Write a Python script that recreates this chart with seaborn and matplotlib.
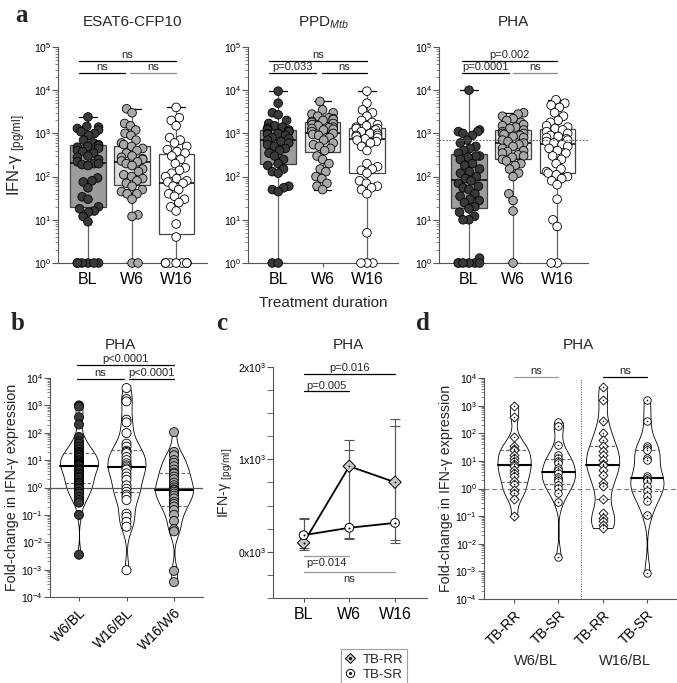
import numpy as np
import pandas as pd
import matplotlib
matplotlib.use('Agg')
import matplotlib.pyplot as plt
import matplotlib.ticker as mticker
from matplotlib.lines import Line2D
from matplotlib.legend_handler import HandlerTuple
import seaborn as sns
import warnings

warnings.filterwarnings('ignore')

# ---------------- data ----------------
times = ['BL', 'W6', 'W16']

# panel a: IFN-gamma (pg/ml)
esat_bl = [2400, 1450, 1400, 1300, 1200, 1100, 1000, 900, 700, 600, 550, 520, 500, 480,
           450, 400, 380, 350, 300, 280, 250, 220, 200, 200, 190, 180, 93, 80, 75, 55,
           34, 30, 20, 18, 16, 15, 12, 9, 1, 1, 1, 1, 1, 1]
esat_w6 = [3700, 3000, 1700, 1500, 1200, 1000, 900, 700, 600, 550, 500, 450, 400, 350,
           300, 280, 260, 250, 230, 220, 200, 180, 150, 130, 110, 100, 90, 80, 70, 60,
           50, 45, 40, 40, 30, 13, 12, 1, 1]
esat_w16 = [4000, 2300, 2000, 1500, 800, 700, 600, 500, 420, 380, 350, 300, 250, 200,
            160, 140, 120, 100, 90, 80, 75, 70, 60, 50, 40, 35, 30, 25, 20, 16, 8, 4,
            1, 1, 1, 1, 1, 1, 1, 1, 1, 1]

ppd_bl = [9500, 5000, 3000, 2700, 2000, 1700, 1500, 1400, 1300, 1300, 1200, 1200, 1100,
          1100, 1000, 1000, 950, 900, 800, 750, 700, 650, 600, 550, 500, 450, 400, 350,
          300, 250, 200, 180, 150, 130, 120, 60, 55, 50, 45, 1, 1]
ppd_w6 = [5500, 3500, 3000, 2800, 2500, 2300, 2200, 2100, 2000, 1900, 1800, 1700, 1600,
          1500, 1400, 1350, 1300, 1250, 1200, 1100, 1000, 950, 900, 800, 700, 600, 550,
          500, 450, 400, 300, 250, 200, 150, 130, 100, 90, 70, 60, 50]
ppd_w16 = [9500, 5000, 3500, 3000, 2500, 2000, 1800, 1600, 1500, 1400, 1300, 1300, 1200,
           1100, 1000, 1000, 900, 900, 850, 800, 750, 700, 650, 600, 500, 400, 200, 170,
           150, 140, 120, 80, 70, 60, 55, 50, 40, 5, 1, 1, 1]

pha_bl = [10000, 1200, 1100, 1100, 1000, 900, 700, 600, 500, 450, 400, 350, 300, 300,
          280, 250, 200, 180, 150, 130, 120, 100, 90, 80, 70, 60, 55, 50, 40, 35, 30, 28,
          25, 20, 18, 15, 12, 10, 10, 1.3, 1, 1, 1, 1, 1, 1]
pha_w6 = [3000, 2800, 2500, 2200, 2000, 1800, 1600, 1500, 1400, 1300, 1200, 1100, 1000,
          1000, 950, 900, 850, 800, 700, 650, 600, 550, 500, 450, 400, 380, 350, 320,
          300, 280, 250, 230, 200, 180, 150, 120, 100, 40, 28, 16, 1]
pha_w16 = [6000, 5000, 4500, 4000, 3000, 2500, 2000, 1800, 1500, 1400, 1300, 1200, 1100,
           1000, 900, 850, 800, 750, 700, 650, 600, 550, 500, 450, 400, 350, 300, 250,
           200, 150, 130, 120, 110, 100, 90, 80, 65, 30, 10, 7, 1, 1]
pha_ref = 700

# panel b: fold-change, PHA
ratios = ['W6/BL', 'W16/BL', 'W16/W6']
fc_w6_bl = [1000, 900, 370, 200, 70, 48, 40, 31, 25, 20, 18, 16, 15, 13, 12, 10, 9, 8,
            7.5, 7, 6.5, 6, 5, 4.5, 4, 3.3, 3, 2.5, 2.2, 1.8, 1.5, 1.4, 1.2, 1.0, 0.9,
            0.7, 0.6, 0.45, 0.35, 0.28, 0.1, 0.0035]
fc_w16_bl = [4300, 1700, 1400, 300, 240, 97, 40, 31, 22, 20, 18, 13, 10, 7.7, 6.5, 5.8,
             5, 4.5, 3.3, 2.5, 1.9, 1.2, 0.9, 0.7, 0.55, 0.47, 0.35, 0.11, 0.085, 0.056,
             0.037, 0.00095]
fc_w16_w6 = [105, 20, 15, 10, 8, 6, 4.5, 3.5, 3.2, 2.5, 2, 1.5, 1.2, 1, 0.85, 0.8, 0.7,
             0.6, 0.5, 0.4, 0.3, 0.25, 0.2, 0.15, 0.1, 0.06, 0.03, 0.025, 0.0009, 0.00035]

# panel c: mean IFN-gamma (pg/ml) with ranges
c_rr_mean = [97, 926, 753]
c_rr_lo = [18, 140, 133]
c_rr_hi = [368, 1214, 1438]
c_sr_mean = [180, 260, 313]
c_sr_lo = [43, 150, 90]
c_sr_hi = [350, 1099, 1358]

# panel d: fold-change by group
d_groups = ['W6/BL TB-RR', 'W6/BL TB-SR', 'W16/BL TB-RR', 'W16/BL TB-SR']
d_ticks = ['TB-RR', 'TB-SR', 'TB-RR', 'TB-SR']
d_w6_rr = [1000, 390, 71, 36, 28, 24, 17, 13, 9.5, 8, 6.3, 4.5, 3.6, 2.8, 1.9, 1.4, 0.9,
           0.7, 0.42, 0.1]
d_w6_sr = [250, 190, 39, 17, 12.6, 10, 8.3, 5.5, 4.5, 3.6, 2.7, 2.2, 1.8, 1.3, 1.05,
           0.7, 0.32, 0.0033]
d_w16_rr = [4600, 1550, 270, 100, 59, 34, 22, 17, 11, 8, 7.2, 4.8, 3.2, 1.6, 1.2, 0.42,
            0.13, 0.085, 0.065, 0.049, 0.037]
d_w16_sr = [1550, 270, 34, 30, 25, 12.6, 11, 2.8, 2.4, 2.1, 1.8, 1.2, 0.8, 0.52, 0.35,
            0.11, 0.00088]

# ---------------- style ----------------
sns.set_style('ticks')
plt.rcParams['font.family'] = ['Liberation Sans', 'DejaVu Sans']
plt.rcParams['mathtext.fontset'] = 'custom'
plt.rcParams['mathtext.rm'] = 'Liberation Sans'
plt.rcParams['mathtext.it'] = 'Liberation Sans:italic'
plt.rcParams['mathtext.bf'] = 'Liberation Sans:bold'
plt.rcParams['axes.edgecolor'] = '#555555'
plt.rcParams['xtick.color'] = '#555555'
plt.rcParams['ytick.color'] = '#555555'
plt.rcParams['xtick.labelcolor'] = 'black'
plt.rcParams['ytick.labelcolor'] = 'black'

box_cols = {'BL': '#9c9c9c', 'W6': '#dedede', 'W16': '#ffffff'}
pt_cols = {'BL': '#3a3a3a', 'W6': '#a9a9a9', 'W16': '#ffffff'}
W, H = 677, 683
fig = plt.figure(figsize=(W / 100, H / 100), dpi=100)
swarms = []


def px_axes(l, t, r, b):
    return fig.add_axes([l / W, 1 - b / H, (r - l) / W, (b - t) / H])


def sig(ax, x0, x1, y, label, color='black', below=False, fs=8):
    ax.plot([x0, x1], [y, y], color=color, lw=0.9, clip_on=False)
    ax.annotate(label, xy=((x0 + x1) / 2, y), xytext=(0, -1.5 if below else 0.5),
                textcoords='offset points', ha='center',
                va='top' if below else 'bottom', fontsize=fs, annotation_clip=False)


def log_axis(ax, lo, hi, fs=7.5):
    ax.set_ylim(lo, hi)
    ax.yaxis.set_major_locator(mticker.LogLocator(base=10, numticks=12))
    ax.yaxis.set_minor_locator(mticker.LogLocator(base=10, subs=np.arange(2, 10), numticks=12))
    ax.yaxis.set_minor_formatter(mticker.NullFormatter())
    ax.tick_params(axis='y', which='major', length=4, width=0.8, labelsize=fs, pad=1)
    ax.tick_params(axis='y', which='minor', length=2, width=0.5)
    ax.tick_params(axis='x', length=3, width=0.8)
    sns.despine(ax=ax)


def fix_inner(ax, n0):
    # median solid and heavy, quartiles dashed
    for i, ln in enumerate(ax.lines[n0:]):
        if i % 3 == 1:
            ln.set_linestyle('-')
            ln.set_color('black')
            ln.set_linewidth(1.5)
        else:
            ln.set_linestyle((0, (3, 2)))
            ln.set_color('#666666')
            ln.set_linewidth(0.8)


# ---------------- panel a ----------------
def box_swarm(ax, groups, title):
    df = pd.DataFrame({'t': np.repeat(times, [len(g) for g in groups]),
                       'v': np.concatenate(groups)})
    sns.boxplot(data=df, x='t', y='v', hue='t', palette=box_cols, whis=(0, 100),
                width=0.8, linewidth=0.9, linecolor='#444444', fliersize=0,
                log_scale=True, legend=False, ax=ax,
                medianprops=dict(color='black', linewidth=1.1),
                whiskerprops=dict(color='#666666'),
                capprops=dict(color='black'))
    k = len(ax.collections)
    sns.swarmplot(data=df, x='t', y='v', hue='t', palette=pt_cols, size=6.2,
                  edgecolor='black', linewidth=0.6, log_scale=True, legend=False, ax=ax)
    swarms.extend(ax.collections[k:])
    for c in ax.collections:
        c.set_clip_on(False)
    ax.set_xlim(-0.68, 2.7)
    log_axis(ax, 1, 1e5)
    ax.set_xlabel('')
    ax.set_ylabel('')
    ax.tick_params(axis='x', labelsize=11.5)
    ax.set_title(title, fontsize=11, pad=15)


ax_a1 = px_axes(58, 47, 207, 263)
box_swarm(ax_a1, [esat_bl, esat_w6, esat_w16], 'ESAT6-CFP10')
ax_a1.set_ylabel('IFN-γ $_{\\mathrm{[pg/ml]}}$', fontsize=12, labelpad=4)
sig(ax_a1, -0.2, 2.0, 10 ** 4.68, 'ns')
sig(ax_a1, -0.2, 0.85, 10 ** 4.4, 'ns')
sig(ax_a1, 0.95, 2.0, 10 ** 4.4, 'ns', color='#888888')

ax_a2 = px_axes(248, 47, 398, 263)
box_swarm(ax_a2, [ppd_bl, ppd_w6, ppd_w16], 'PPD$_{\\mathit{Mtb}}$')
sig(ax_a2, -0.2, 2.0, 10 ** 4.68, 'ns')
sig(ax_a2, -0.2, 0.85, 10 ** 4.4, 'p=0.033')
sig(ax_a2, 0.98, 2.0, 10 ** 4.4, 'ns')

ax_a3 = px_axes(439, 47, 588, 263)
box_swarm(ax_a3, [pha_bl, pha_w6, pha_w16], 'PHA')
ax_a3.axhline(pha_ref, ls=(0, (1.5, 1.5)), color='#666666', lw=0.8, zorder=5)
sig(ax_a3, -0.15, 2.0, 10 ** 4.68, 'p=0.002')
sig(ax_a3, -0.15, 0.9, 10 ** 4.4, 'p=0.0001')
sig(ax_a3, 1.0, 2.0, 10 ** 4.4, 'ns', color='#888888')

fig.text(323 / W, 1 - 303 / H, 'Treatment duration', ha='center', va='center', fontsize=11)

# ---------------- panel b ----------------
ax_b = px_axes(50, 378, 203, 597)
dfb = pd.DataFrame({'r': np.repeat(ratios, [len(fc_w6_bl), len(fc_w16_bl), len(fc_w16_w6)]),
                    'v': np.concatenate([fc_w6_bl, fc_w16_bl, fc_w16_w6])})
n0 = len(ax_b.lines)
sns.violinplot(data=dfb, x='r', y='v', color='white', linecolor='black', linewidth=0.6,
               inner='quart', cut=0, density_norm='width', width=0.8, bw_adjust=0.55,
               log_scale=True, ax=ax_b)
fix_inner(ax_b, n0)
ax_b.axhline(1, color='#555555', lw=0.9, zorder=1)
sns.stripplot(data=dfb, x='r', y='v', hue='r',
              palette={'W6/BL': '#3a3a3a', 'W16/BL': '#ffffff', 'W16/W6': '#a9a9a9'},
              jitter=False, size=6.5, edgecolor='black', linewidth=0.6, legend=False,
              log_scale=True, ax=ax_b, zorder=4)
ax_b.set_xlim(-0.61, 2.61)
log_axis(ax_b, 1e-4, 1e4)
ax_b.set_xlabel('')
ax_b.set_ylabel('Fold-change in IFN-γ expression', fontsize=10.3, labelpad=2)
ax_b.tick_params(axis='x', labelsize=10)
plt.setp(ax_b.get_xticklabels(), rotation=45, ha='right', rotation_mode='anchor')
sig(ax_b, -0.04, 2.0, 10 ** 4.48, 'p<0.0001')
sig(ax_b, -0.04, 0.94, 10 ** 3.97, 'ns')
sig(ax_b, 1.06, 2.0, 10 ** 3.97, 'p<0.0001')

# ---------------- panel c ----------------
ax_c = px_axes(273, 367, 427, 598)
dfc = pd.DataFrame({'t': times * 2, 'g': ['TB-RR'] * 3 + ['TB-SR'] * 3,
                    'v': c_rr_mean + c_sr_mean})
pos = np.arange(len(times))
ax_c.errorbar(pos, c_rr_mean, yerr=[np.subtract(c_rr_mean, c_rr_lo), np.subtract(c_rr_hi, c_rr_mean)],
              fmt='none', ecolor='#555555', elinewidth=0.8, capsize=3.5, capthick=0.8)
ax_c.errorbar(pos, c_sr_mean, yerr=[np.subtract(c_sr_mean, c_sr_lo), np.subtract(c_sr_hi, c_sr_mean)],
              fmt='none', ecolor='#555555', elinewidth=0.8, capsize=3.5, capthick=0.8)
sns.lineplot(data=dfc, x='t', y='v', hue='g', palette={'TB-RR': 'black', 'TB-SR': 'black'},
             lw=1.3, legend=False, ax=ax_c)
sns.scatterplot(data=dfc, x='t', y='v', hue='g', style='g',
                palette={'TB-RR': '#c8c8c8', 'TB-SR': '#ffffff'},
                markers={'TB-RR': 'D', 'TB-SR': 'o'}, s=40, edgecolor='black',
                linewidth=0.7, legend=False, ax=ax_c, zorder=5)
sns.scatterplot(data=dfc, x='t', y='v', color='black', marker='.', s=8, linewidth=0,
                legend=False, ax=ax_c, zorder=6)
ax_c.set_xlim(-0.67, 2.7)
ax_c.set_ylim(-500, 2000)
ax_c.yaxis.set_major_locator(mticker.FixedLocator([0, 1000, 2000]))
ax_c.set_yticklabels(['0x10$^{3}$', '1x10$^{3}$', '2x10$^{3}$'])
ax_c.yaxis.set_minor_locator(mticker.MultipleLocator(250))
ax_c.tick_params(axis='y', which='major', length=4, width=0.8, labelsize=7.5, pad=1)
ax_c.tick_params(axis='y', which='minor', length=4, width=0.6)
ax_c.tick_params(axis='x', length=3, width=0.8, labelsize=11.5)
sns.despine(ax=ax_c)
ax_c.set_xlabel('')
ax_c.set_ylabel('IFN-γ $_{\\mathrm{[pg/ml]}}$', fontsize=10.3, labelpad=2)
sig(ax_c, 0, 2, 1924, 'p=0.016')
sig(ax_c, 0, 1, 1737, 'p=0.005')
sig(ax_c, 0, 1, -47, 'p=0.014', color='#999999', below=True)
sig(ax_c, 0, 2, -216, 'ns', color='#999999', below=True)

h_rr = Line2D([], [], ls='none', marker='D', ms=5.5, mfc='#c8c8c8', mec='black', mew=0.7)
h_sr = Line2D([], [], ls='none', marker='o', ms=6, mfc='white', mec='black', mew=0.7)
h_dot = Line2D([], [], ls='none', marker='.', ms=2.5, color='black')
leg = fig.legend([(h_rr, h_dot), (h_sr, h_dot)], ['TB-RR', 'TB-SR'],
                 handler_map={tuple: HandlerTuple(ndivide=1)}, loc='center',
                 bbox_to_anchor=(374 / W, 1 - 667 / H), fontsize=9.5, frameon=True,
                 fancybox=False, edgecolor='#888888', handlelength=0.8, handletextpad=0.5,
                 borderpad=0.3, labelspacing=0.2)
leg.get_frame().set_linewidth(0.8)

# ---------------- panel d ----------------
ax_d = px_axes(484, 378, 677, 599)
d_vals = [d_w6_rr, d_w6_sr, d_w16_rr, d_w16_sr]
dfd = pd.DataFrame({'g': np.repeat(d_groups, [len(v) for v in d_vals]),
                    'v': np.concatenate(d_vals)})
dfd['m'] = dfd['g'].str.split(' ').str[1]
n0 = len(ax_d.lines)
sns.violinplot(data=dfd, x='g', y='v', order=d_groups, color='white', linecolor='black',
               linewidth=0.6, inner='quart', cut=0, density_norm='width', width=0.75,
               bw_adjust=0.55, log_scale=True, ax=ax_d)
fix_inner(ax_d, n0)
for mk, marker, ms in [('TB-RR', 'D', 4.6), ('TB-SR', 'o', 5.4)]:
    sub = dfd[dfd['m'] == mk]
    sns.stripplot(data=sub, x='g', y='v', order=d_groups, color='white', marker=marker,
                  jitter=False, size=ms, edgecolor='black', linewidth=0.6, log_scale=True,
                  ax=ax_d, zorder=4)
sns.stripplot(data=dfd, x='g', y='v', order=d_groups, color='black', marker='.',
              jitter=False, size=2.2, linewidth=0, log_scale=True, ax=ax_d, zorder=5)
ax_d.axhline(1, color='#777777', lw=0.8, ls=(0, (4, 3)), zorder=1)
ax_d.axvline(1.5, color='#555555', lw=0.7, ls=(0, (1, 1.5)), zorder=1)
ax_d.set_xlim(-0.68, 3.68)
log_axis(ax_d, 1e-4, 1e4)
ax_d.set_xticks(range(len(d_groups)))
ax_d.set_xticklabels(d_ticks)
ax_d.set_xlabel('')
ax_d.set_ylabel('Fold-change in IFN-γ expression', fontsize=10.3, labelpad=2)
ax_d.tick_params(axis='x', labelsize=10)
plt.setp(ax_d.get_xticklabels(), rotation=45, ha='right', rotation_mode='anchor')
sig(ax_d, 0, 1, 10 ** 4.05, 'ns', color='#999999')
sig(ax_d, 2, 3, 10 ** 4.05, 'ns')
for gx, gl in [(0.5, 'W6/BL'), (2.5, 'W16/BL')]:
    ax_d.text(gx, -0.28, gl, transform=ax_d.get_xaxis_transform(), ha='center',
              va='center', fontsize=10.5)

# ---------------- titles / letters ----------------
for tx in (120, 348, 578):
    fig.text(tx / W, 1 - 345 / H, 'PHA', ha='center', va='center', fontsize=11)
for lx, ly, lt in [(22, 15, 'a'), (18, 323, 'b'), (222, 323, 'c'), (423, 323, 'd')]:
    fig.text(lx / W, 1 - ly / H, lt, fontsize=18, fontweight='bold',
             family='Liberation Serif', ha='center', va='center')

# squeeze the beeswarms toward their centres so they overlap like the original
fig.canvas.draw()
for c in swarms:
    off = np.asarray(c.get_offsets()).copy()
    if len(off) == 0:
        continue
    ctr = np.round(off[:, 0])
    off[:, 0] = ctr + (off[:, 0] - ctr) * 0.6
    if 'draw' in c.__dict__:
        del c.draw
    c.set_offsets(off)

fig.savefig('out.png', dpi=100)
